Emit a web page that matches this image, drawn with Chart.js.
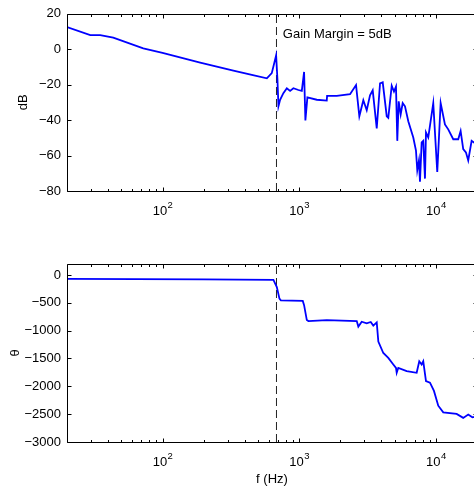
<!DOCTYPE html>
<html>
<head>
<meta charset="utf-8">
<script src="https://cdn.jsdelivr.net/npm/chart.js@4.4.1/dist/chart.umd.min.js"></script>
<style>
  html, body { margin: 0; padding: 0; background: #fff; overflow: hidden; }
  body { width: 474px; height: 493px; position: relative; }
  canvas { position: absolute; left: 0; }
  #chart_gain { top: 0; }
  #chart_phase { top: 250px; }
</style>
</head>
<body>
<canvas id="chart_gain" width="480" height="250"></canvas>
<canvas id="chart_phase" width="480" height="243"></canvas>
<script>
// magnitude response
const gainFreq = [20, 29.6, 35, 43.6, 72.3, 100, 188.6, 330, 450, 580, 630, 678, 693, 705, 725, 766, 812, 858, 907, 987,
  1045, 1086, 1110, 1148, 1345, 1591, 1600, 1884, 2356, 2606, 2755, 2946, 3120, 3298, 3451, 3693, 3904, 4085,
  4370, 4487, 4753, 4939, 5108, 5221, 5346, 5528, 5718, 5945, 6284, 6836, 7154, 7311, 7523, 7652, 7873, 8088,
  8325, 8466, 8800, 9572, 10238, 10840, 11654, 12318, 13407, 14578, 15180, 15857, 16596, 17251, 18268, 18985, 20000];
const gainDb = [12.5, 8, 8, 6.5, 0.5, -2, -7.5, -12.1, -14.5, -16.4, -13.5, -3.5, -16.8, -32.2, -28.5, -24.8, -22, -23.5, -22, -23,
  -23.5, -12.8, -40.2, -27.2, -28.5, -29, -26.3, -26.3, -25.4, -20.2, -37.8, -28.8, -34.4, -26, -23.2, -44.7, -19.3, -18.7,
  -37.8, -38.7, -20.6, -23.9, -21.1, -51.7, -29.4, -36.8, -30.4, -32.2, -40.6, -49.8, -57.2, -68.3, -62.8, -74.8, -52.6, -51.7,
  -73, -47, -49.8, -30.4, -69.3, -30.4, -42.4, -45.2, -50.8, -50.8, -46.1, -56.3, -58.2, -62.8, -51.7, -52.6, -52];

// phase response
const phaseFreq = [20, 200, 648, 686, 717, 734, 1062, 1086, 1137, 1168, 1591, 2637, 2709, 2868, 3120, 3337, 3486,
  3693, 3794, 4126, 4487, 4882, 5108, 5170, 5311, 6116, 7238, 7561, 7873, 8088, 8466, 9055, 9685, 10411,
  11326, 14191, 15857, 17251, 18500, 20000];
const phaseDeg = [-70, -80, -89, -218, -426, -455, -467, -543, -810, -828, -810, -828, -928, -840, -870, -845, -910,
  -852, -1195, -1402, -1491, -1608, -1668, -1757, -1668, -1727, -1757, -1550, -1608, -1550, -1905, -1935, -2082, -2348,
  -2467, -2496, -2567, -2508, -2556, -2540];

// gain margin marker
const marginFreq = 682;
const marginText = "Gain Margin = 5dB";
const marginTextPos = [759, 8.3];

const gainTicks = [20, 0, -20, -40, -60, -80];
const phaseTicks = [0, -500, -1000, -1500, -2000, -2500, -3000];
const decadeTicks = [100, 1000, 10000];
const decadeExp = ["2", "3", "4"];

const FONT = '"Liberation Sans", Arial, Helvetica, sans-serif';

function minus(v){
  return String(v).replace('-', '\u2212');
}

function pairs(xs, ys){
  return xs.map((x, i) => ({x: x, y: ys[i]}));
}

// MATLAB-ish box: inward ticks on all sides, plus 10^n labels
const boxTicks = {
  id: 'boxTicks',
  afterDraw(chart){
    const ctx = chart.ctx;
    const a = chart.chartArea;
    const x = chart.scales.x;
    const y = chart.scales.y;
    ctx.save();
    ctx.strokeStyle = '#000';
    ctx.lineWidth = 1;
    const L = Math.round(a.left) + 0.5, R = Math.round(a.right) + 0.5;
    const T = Math.round(a.top) + 0.5, B = Math.round(a.bottom) + 0.5;
    ctx.beginPath();
    ctx.rect(L, T, R - L, B - T);
    for (let d = 10; d <= 10000; d *= 10){
      for (let m = 1; m < 10; m++){
        const v = d * m;
        if (v < x.min || v > x.max) continue;
        const px = Math.round(x.getPixelForValue(v)) + 0.5;
        const len = m === 1 ? 4 : 2.5;
        ctx.moveTo(px, B); ctx.lineTo(px, B - len);
        ctx.moveTo(px, T); ctx.lineTo(px, T + len);
      }
    }
    y.ticks.forEach(t => {
      const py = Math.round(y.getPixelForValue(t.value)) + 0.5;
      ctx.moveTo(L, py); ctx.lineTo(L + 4, py);
      ctx.moveTo(R, py); ctx.lineTo(R - 4, py);
    });
    ctx.stroke();

    ctx.fillStyle = '#000';
    ctx.textAlign = 'left';
    ctx.textBaseline = 'alphabetic';
    decadeTicks.forEach((v, i) => {
      const px = x.getPixelForValue(v);
      ctx.font = '13px ' + FONT;
      const w1 = ctx.measureText('10').width;
      ctx.font = '9.5px ' + FONT;
      const w2 = ctx.measureText(decadeExp[i]).width;
      const left = px - (w1 + w2) / 2;
      ctx.font = '13px ' + FONT;
      ctx.fillText('10', left, a.bottom + 24);
      ctx.font = '9.5px ' + FONT;
      ctx.fillText(decadeExp[i], left + w1 + 0.5, a.bottom + 16.5);
    });

    const note = chart.options.plugins.boxTicks;
    if (note && note.text){
      ctx.font = '13px ' + FONT;
      ctx.textBaseline = 'middle';
      ctx.fillText(note.text, x.getPixelForValue(note.at[0]), y.getPixelForValue(note.at[1]));
    }
    ctx.restore();
  }
};

function makeChart(id, opts){
  return new Chart(document.getElementById(id), {
    type: 'line',
    data: {
      datasets: [{
        data: pairs(opts.xs, opts.ys),
        borderColor: '#0000ff',
        borderWidth: 1.8,
        pointRadius: 0,
        tension: 0,
        order: 0
      }, {
        data: [{x: marginFreq, y: opts.min}, {x: marginFreq, y: opts.max}],
        borderColor: '#222',
        borderWidth: 1,
        borderDash: [8, 4],
        pointRadius: 0,
        order: 1
      }]
    },
    options: {
      responsive: false,
      animation: false,
      events: [],
      layout: { padding: { top: 11, right: 3, left: 0, bottom: 0 } },
      scales: {
        x: {
          type: 'logarithmic',
          min: 20,
          max: 20000,
          grid: { display: false },
          border: { display: false },
          ticks: { display: false },
          title: {
            display: !!opts.xTitle,
            text: opts.xTitle || '',
            color: '#000',
            font: { family: FONT, size: 13 },
            padding: { top: 0, bottom: 6 }
          },
          afterFit: s => { s.height = opts.xHeight; }
        },
        y: {
          min: opts.min,
          max: opts.max,
          grid: { display: false, drawTicks: false },
          border: { display: false },
          afterBuildTicks: s => { s.ticks = opts.ticks.map(v => ({value: v})); },
          ticks: {
            color: '#000',
            padding: 6,
            font: { family: FONT, size: 13 },
            callback: v => minus(v)
          },
          title: {
            display: true,
            text: opts.yTitle,
            color: '#000',
            font: { family: FONT, size: 13 },
            padding: { top: opts.yTitlePad, bottom: 0 }
          },
          afterFit: s => { s.width = 67; }
        }
      },
      plugins: {
        legend: { display: false },
        tooltip: { enabled: false },
        boxTicks: opts.note || {}
      }
    },
    plugins: [boxTicks]
  });
}

makeChart('chart_gain', {
  xs: gainFreq, ys: gainDb, min: -80, max: 20, ticks: gainTicks,
  yTitle: 'dB', yTitlePad: 15.5, xHeight: 59,
  note: { text: marginText, at: marginTextPos }
});

makeChart('chart_phase', {
  xs: phaseFreq, ys: phaseDeg, min: -3000, max: 200, ticks: phaseTicks,
  yTitle: '\u03b8', yTitlePad: 7.5, xHeight: 51, xTitle: 'f (Hz)'
});
</script>
</body>
</html>
